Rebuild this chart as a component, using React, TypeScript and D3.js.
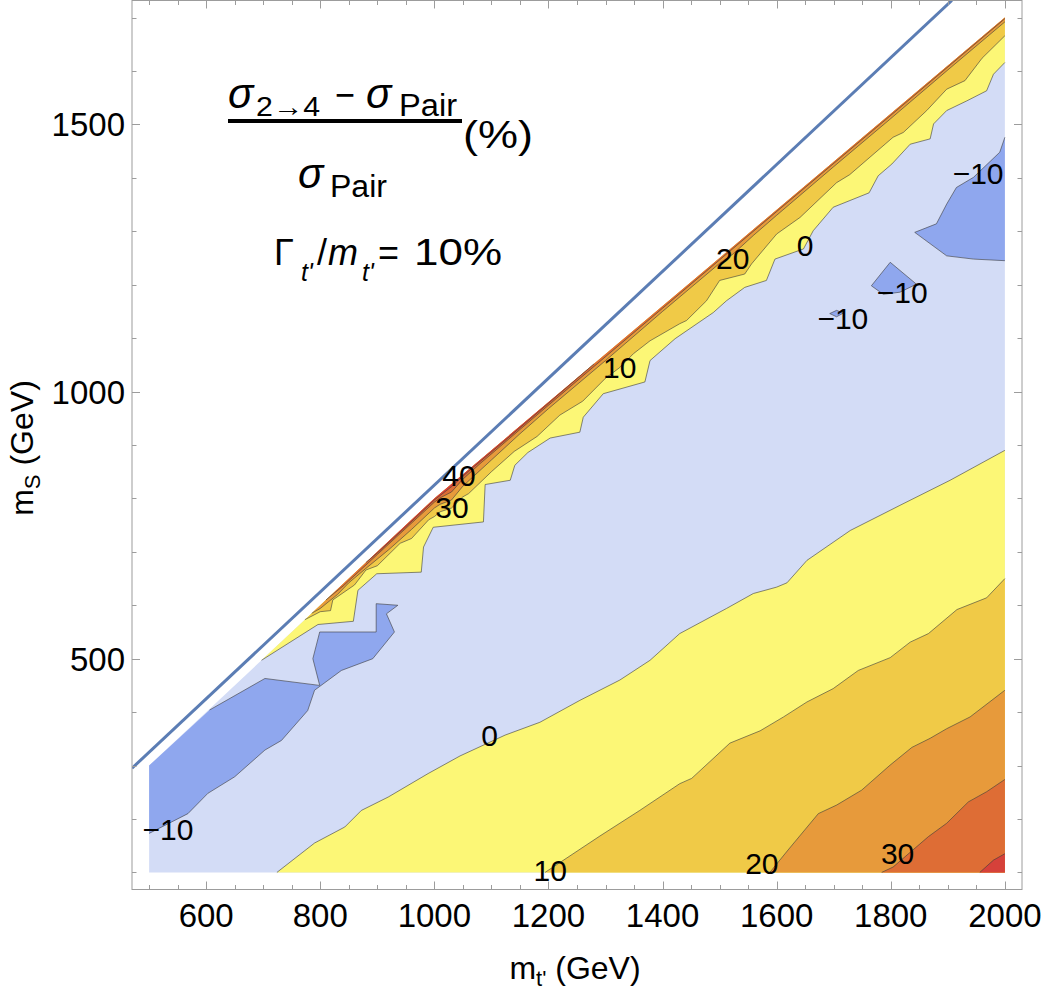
import React, { useEffect, useRef } from "react";
import * as d3 from "d3";

// plot ranges in GeV
const mtRange = [470, 2030];
const msRange = [68, 1732];

const xTickLabels = [600, 800, 1000, 1200, 1400, 1600, 1800, 2000];
const yTickLabels = [500, 1000, 1500];

// scanned region and its upper-left (kinematic) edge
const scanRegion = [[500, 100], [2000, 100], [2000, 1700], [1000, 800], [500, 300]];
const scanEdge = [[500, 300], [1000, 800], [2000, 1700]];

// m_S = m_t' - m_t line
const thresholdLine = [[470, 295], [1907, 1732]];

// contours at low m_S (bottom-right corner)
const lower0 = [[724, 100], [790, 155], [843, 185], [872, 216], [919, 241], [989, 285], [1045, 318], [1124, 357], [1185, 381], [1255, 422], [1325, 460], [1378, 497], [1430, 547], [1512, 594], [1559, 622], [1600, 634], [1618, 642], [1653, 684], [1729, 740], [1816, 787], [1904, 834], [2000, 890]];
const lower10 = [[1194, 100], [1290, 168], [1360, 216], [1430, 266], [1451, 276], [1518, 342], [1571, 365], [1612, 391], [1653, 419], [1699, 444], [1743, 478], [1799, 502], [1834, 531], [1866, 547], [1916, 592], [1968, 614], [2000, 650]];
const lower20 = [[1588, 100], [1620, 142], [1673, 210], [1705, 226], [1749, 254], [1799, 301], [1837, 334], [1869, 351], [1898, 369], [1939, 391], [2000, 441]];
const lower30 = [[1784, 100], [1804, 110], [1866, 167], [1898, 192], [1936, 232], [1968, 251], [2000, 274]];
const lower40 = [[1956, 100], [1980, 123], [2000, 135]];

// contours hugging the kinematic edge
const upper0 = [[697, 497], [796, 564], [858, 570], [866, 628], [899, 659], [977, 662], [981, 709], [998, 746], [1086, 756], [1089, 826], [1133, 834], [1141, 862], [1164, 886], [1203, 913], [1255, 924], [1261, 952], [1296, 996], [1369, 1018], [1378, 1058], [1422, 1099], [1489, 1148], [1512, 1170], [1544, 1195], [1582, 1208], [1597, 1248], [1647, 1267], [1664, 1301], [1699, 1345], [1762, 1372], [1778, 1404], [1802, 1426], [1834, 1463], [1869, 1473], [1875, 1501], [1898, 1526], [1933, 1544], [1968, 1563], [1980, 1594], [2000, 1616]];
const upper10 = [[773, 573], [800, 588], [818, 590], [822, 610], [860, 638], [880, 666], [900, 674], [940, 716], [960, 725], [990, 760], [1000, 766], [1010, 775], [1030, 782], [1050, 803], [1060, 809], [1100, 850], [1140, 888], [1180, 916], [1220, 956], [1260, 982], [1300, 1025], [1325, 1045], [1349, 1071], [1378, 1095], [1430, 1127], [1442, 1133], [1477, 1170], [1500, 1208], [1544, 1220], [1556, 1239], [1600, 1295], [1641, 1326], [1705, 1391], [1728, 1406], [1804, 1476], [1822, 1485], [1863, 1526], [1898, 1566], [1930, 1582], [1960, 1624], [2000, 1666]];
const upper20 = [[785, 585], [800, 594], [830, 620], [850, 642], [880, 669], [920, 704], [960, 742], [1000, 782], [1010, 789], [1030, 797], [1050, 823], [1100, 872], [1150, 921], [1200, 968], [1300, 1058], [1400, 1150], [1500, 1240], [1523, 1257], [1560, 1293], [1600, 1330], [1700, 1421], [1800, 1511], [1900, 1602], [2000, 1692]];
const upper30 = [[810, 610], [840, 636], [900, 695], [950, 744], [1000, 793], [1010, 801], [1030, 812], [1050, 836], [1080, 865], [1150, 929], [1250, 1020], [1400, 1156], [1600, 1337], [1800, 1517], [2000, 1698]];
const upper40 = [[880, 680], [900, 698], [950, 747], [1000, 797], [1030, 822], [1060, 851], [1120, 905], [1200, 978], [1280, 1052]];

// islands below -10
const blueLowLeft = [[500, 173], [568, 210], [603, 248], [650, 279], [703, 329], [732, 347], [778, 403], [790, 441], [837, 478], [892, 500], [930, 550], [916, 584], [936, 600], [898, 603], [898, 550], [799, 550], [787, 500], [799, 450], [703, 463], [606, 404]];
const blueRight = [[2000, 1476], [1991, 1448], [1945, 1401], [1915, 1382], [1898, 1351], [1880, 1314], [1842, 1298], [1898, 1254], [1945, 1248], [2000, 1245]];
const blueIsland = [[1799, 1242], [1845, 1201], [1816, 1186], [1787, 1182], [1766, 1198]];
const blueSmall = [[1693, 1146], [1705, 1152], [1717, 1147], [1705, 1140]];

const contourLabels = [
  { text: "\u221210", mt: 533, ms: 181 },
  { text: "0", mt: 1097, ms: 357 },
  { text: "10", mt: 1203, ms: 104 },
  { text: "20", mt: 1574, ms: 117 },
  { text: "30", mt: 1812, ms: 136 },
  { text: "40", mt: 1043, ms: 842 },
  { text: "30", mt: 1031, ms: 783 },
  { text: "10", mt: 1325, ms: 1045 },
  { text: "20", mt: 1523, ms: 1249 },
  { text: "0", mt: 1650, ms: 1273 },
  { text: "\u221210", mt: 1716, ms: 1137 },
  { text: "\u221210", mt: 1820, ms: 1185 },
  { text: "\u221210", mt: 1953, ms: 1408 },
];

const colors = {
  blue: "#8fa7ee",
  lavender: "#d3dcf6",
  yellow: "#fcf776",
  gold: "#f0ca47",
  orange: "#e79a3b",
  darkOrange: "#de6d35",
  red: "#d6413a",
};

const FONT = "'Liberation Sans', Arial, Helvetica, sans-serif";

const App = () => {
  const svgRef = useRef();

  useEffect(() => {
    document.body.style.margin = "0";
    const svg = d3.select(svgRef.current);
    svg.selectAll("*").remove();

    const x = d3.scaleLinear().domain(mtRange).range([132, 1022]);
    const y = d3.scaleLinear().domain(msRange).range([889.5, 0.5]);

    const line = d3.line().x(d => x(d[0])).y(d => y(d[1]));
    const poly = pts => line(pts) + "Z";

    // close a contour that starts on the kinematic edge back along that edge
    const upperFill = pts => {
      const first = pts[0];
      const last = pts[pts.length - 1];
      const back = scanEdge
        .filter(v => v[0] > first[0] && v[0] <= last[0] && !(v[0] === last[0] && v[1] === last[1]))
        .sort((a, b) => b[0] - a[0]);
      return [...pts, ...back];
    };

    svg.append("defs").append("clipPath").attr("id", "frameClip")
      .append("rect").attr("x", 132).attr("y", 0.5).attr("width", 890).attr("height", 889);

    const g = svg.append("g").attr("clip-path", "url(#frameClip)");

    g.append("path").attr("d", poly(scanRegion)).attr("fill", colors.lavender);

    // bands, bottom-right
    [[lower0, colors.yellow], [lower10, colors.gold], [lower20, colors.orange], [lower30, colors.darkOrange], [lower40, colors.red]]
      .forEach(([c, col]) => {
        g.append("path").attr("d", poly([...c, [2000, 100]])).attr("fill", col);
      });

    // bands along the edge
    [[upper0, colors.yellow], [upper10, colors.gold], [upper20, colors.orange], [upper30, colors.darkOrange], [upper40, colors.red]]
      .forEach(([c, col]) => {
        g.append("path").attr("d", poly(upperFill(c))).attr("fill", col);
      });

    // below -10
    g.append("path").attr("d", poly([...blueLowLeft, [500, 300]])).attr("fill", colors.blue);
    g.append("path").attr("d", poly(blueRight)).attr("fill", colors.blue);
    g.append("path").attr("d", poly(blueIsland)).attr("fill", colors.blue);
    g.append("path").attr("d", poly(blueSmall)).attr("fill", colors.blue);

    // contour lines
    const stroke = (d) => g.append("path").attr("d", d)
      .attr("fill", "none").attr("stroke", "#3a3a3a").attr("stroke-opacity", 0.75)
      .attr("stroke-width", 0.8).attr("stroke-linejoin", "round");
    [lower0, lower10, lower20, lower30, lower40, upper0, upper10, upper20, upper30, upper40, blueLowLeft, blueRight]
      .forEach(c => stroke(line(c)));
    stroke(poly(blueIsland));
    stroke(poly(blueSmall));

    // threshold line
    g.append("path").attr("d", line(thresholdLine))
      .attr("fill", "none").attr("stroke", "#5b7db4").attr("stroke-width", 3);

    // contour labels
    g.selectAll(".clabel").data(contourLabels).enter().append("text")
      .attr("class", "clabel")
      .attr("x", d => x(d.mt)).attr("y", d => y(d.ms))
      .attr("text-anchor", "middle").attr("dominant-baseline", "central")
      .attr("font-family", FONT).attr("font-size", 30).attr("fill", "#000")
      .text(d => d.text);

    // frame and ticks
    const frameColor = "#9c9c9c";
    svg.append("rect").attr("x", 132).attr("y", 0.5).attr("width", 890).attr("height", 889)
      .attr("fill", "none").attr("stroke", frameColor).attr("stroke-width", 1);

    const xMinor = d3.range(500, 2001, 50);
    const yMinor = d3.range(100, 1701, 100);
    const ticks = svg.append("g").attr("stroke", frameColor).attr("stroke-width", 1);
    xMinor.forEach(v => {
      const len = v % 200 === 0 ? 8 : 4.5;
      const px = Math.round(x(v)) + 0.5;
      ticks.append("line").attr("x1", px).attr("x2", px).attr("y1", 889.5).attr("y2", 889.5 - len);
      ticks.append("line").attr("x1", px).attr("x2", px).attr("y1", 0.5).attr("y2", 0.5 + len);
    });
    yMinor.forEach(v => {
      const len = v % 500 === 0 ? 8 : 4.5;
      const py = Math.round(y(v)) + 0.5;
      ticks.append("line").attr("x1", 132).attr("x2", 132 + len).attr("y1", py).attr("y2", py);
      ticks.append("line").attr("x1", 1022).attr("x2", 1022 - len).attr("y1", py).attr("y2", py);
    });

    svg.selectAll(".xlab").data(xTickLabels).enter().append("text")
      .attr("class", "xlab")
      .attr("x", d => x(d)).attr("y", 927)
      .attr("text-anchor", "middle").attr("font-family", FONT).attr("font-size", 33)
      .text(d => d);

    svg.selectAll(".ylab").data(yTickLabels).enter().append("text")
      .attr("class", "ylab")
      .attr("x", 125).attr("y", d => y(d) + 12)
      .attr("text-anchor", "end").attr("font-family", FONT).attr("font-size", 33)
      .text(d => d);

    // axis titles
    const xt = svg.append("text").attr("x", 575).attr("y", 979)
      .attr("text-anchor", "middle").attr("font-family", FONT).attr("font-size", 32);
    xt.append("tspan").text("m");
    xt.append("tspan").attr("font-size", 22).attr("dy", 7).text("t'");
    xt.append("tspan").attr("dy", -7).text(" (GeV)");

    const yt = svg.append("text").attr("transform", "translate(33,448) rotate(-90)")
      .attr("text-anchor", "middle").attr("font-family", FONT).attr("font-size", 32);
    yt.append("tspan").text("m");
    yt.append("tspan").attr("font-size", 22).attr("dy", 7).text("S");
    yt.append("tspan").attr("dy", -7).text(" (GeV)");

    // annotation
    const ann = svg.append("g").attr("font-family", FONT).attr("fill", "#000");
    const txt = (px, py, s, size, italic = false, len = null) => {
      const t = ann.append("text").attr("x", px).attr("y", py).attr("font-size", size)
        .attr("font-style", italic ? "italic" : "normal").text(s);
      if (len) t.attr("textLength", len).attr("lengthAdjust", "spacingAndGlyphs");
      return t;
    };
    txt(228, 108, "\u03c3", 42, true);
    txt(256, 116, "2\u21924", 27, false, 64);
    txt(335, 108, "\u2212", 38, false, 20);
    txt(366, 108, "\u03c3", 42, true);
    txt(399, 116, "Pair", 31, false, 58);
    ann.append("rect").attr("x", 228).attr("y", 119).attr("width", 234).attr("height", 4);
    txt(463, 148, "(%)", 38, false, 70);
    txt(298, 188, "\u03c3", 42, true);
    txt(330, 197, "Pair", 31, false, 57);

    txt(274, 265, "\u0393", 36);
    txt(301, 281, "t'", 25, true);
    txt(317, 265, "/", 36);
    txt(328, 265, "m", 36, true);
    txt(362, 281, "t'", 25, true);
    txt(378, 265, "=", 36, false, 21);
    txt(414, 265, "10%", 36, false, 88);
  }, []);

  return <svg ref={svgRef} width={1042} height={994} style={{ display: "block" }}></svg>;
};

export default App;
